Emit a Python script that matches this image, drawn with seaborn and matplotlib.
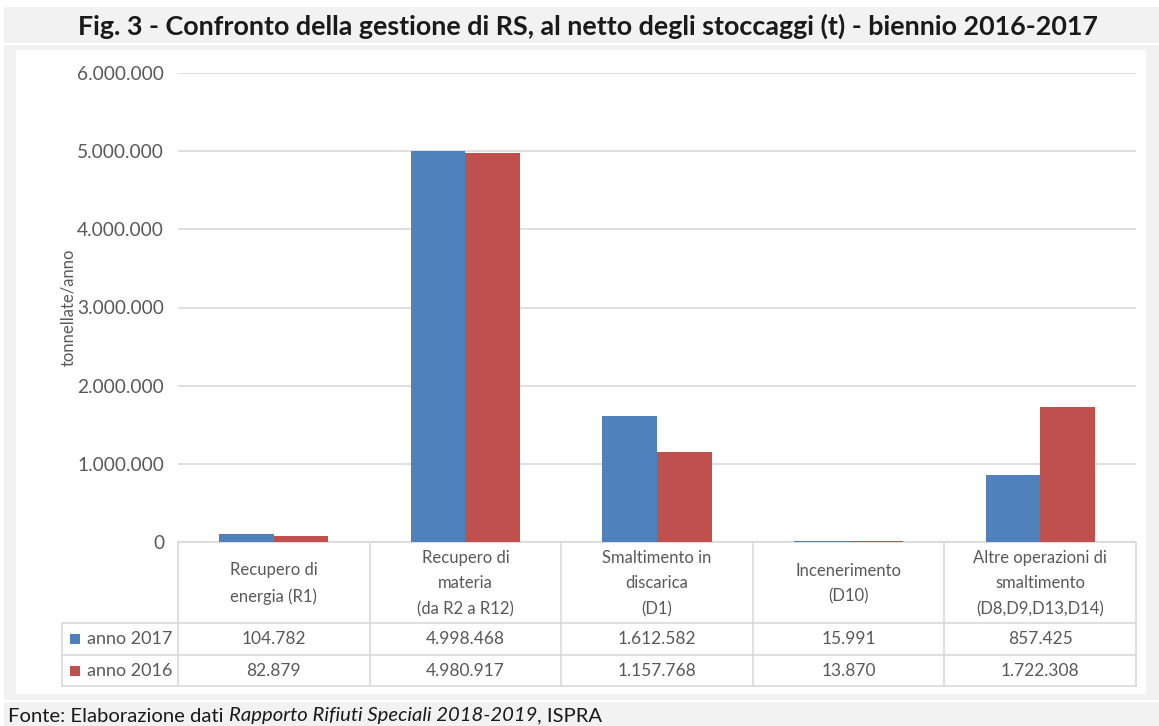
import numpy as np
import pandas as pd
import seaborn as sns
import matplotlib.pyplot as plt
from matplotlib.patches import Rectangle
from matplotlib.transforms import blended_transform_factory

# --- data -------------------------------------------------------------
categories = [
    "Recupero di\nenergia (R1)",
    "Recupero di\nmateria\n(da R2 a R12)",
    "Smaltimento in\ndiscarica\n(D1)",
    "Incenerimento\n(D10)",
    "Altre operazioni di\nsmaltimento\n(D8,D9,D13,D14)",
]
series_names = ["anno 2017", "anno 2016"]
values_2017 = [104782, 4998468, 1612582, 15991, 857425]
values_2016 = [82879, 4980917, 1157768, 13870, 1722308]
y_ticks = [0, 1000000, 2000000, 3000000, 4000000, 5000000, 6000000]

colors = {"anno 2017": "#4F81BD", "anno 2016": "#C0504D"}

title = "Fig. 3 - Confronto della gestione di RS, al netto degli stoccaggi (t) - biennio 2016-2017"
ylabel = "tonnellate/anno"


def it_num(v):
    return f"{v:,}".replace(",", ".")


df = pd.DataFrame({
    "categoria": categories * 2,
    "anno": [series_names[0]] * len(categories) + [series_names[1]] * len(categories),
    "valore": values_2017 + values_2016,
})

# --- figure -----------------------------------------------------------
sns.set_theme(style="white")
plt.rcParams["font.family"] = ["Lato", "DejaVu Sans"]

W, H = 1159, 726
fig = plt.figure(figsize=(W / 100, H / 100), dpi=100)

# full-figure overlay in pixel units (y downwards) for frames and table
ov = fig.add_axes([0, 0, 1, 1], zorder=0)
ov.set_xlim(0, W)
ov.set_ylim(H, 0)
ov.axis("off")

band = "#F2F2F2"
grid_c = "#D9D9D9"
text_c = "#595959"

# title band, chart frame, footer band
ov.add_patch(Rectangle((4, 7), W - 4, 36, facecolor=band, edgecolor="none"))
ov.add_patch(Rectangle((4, 45), W - 4, 655, facecolor=band, edgecolor="none"))
ov.add_patch(Rectangle((16, 50), 1130, 644, facecolor="white", edgecolor="none"))
ov.add_patch(Rectangle((4, 702), W - 4, 30, facecolor=band, edgecolor="none"))
ov.text(W / 2 + 8, 26, title, ha="center", va="center", fontsize=19.4,
        fontweight="bold", color="#1a1a1a")

# footer with italic source title
t1 = ov.text(8, 716, "Fonte: Elaborazione dati ", ha="left", va="center",
             fontsize=14.6, color="#1a1a1a")
t2 = ov.annotate("Rapporto Rifiuti Speciali 2018-2019", xy=(1, 0), xycoords=t1,
                 va="bottom", ha="left", fontsize=14.6, style="italic", color="#1a1a1a")
ov.annotate(", ISPRA", xy=(1, 0), xycoords=t2, va="bottom", ha="left",
            fontsize=14.6, color="#1a1a1a")

# --- bar chart ----------------------------------------------------------
px_left, px_right, px_top, px_zero = 178, 1136, 73, 542
ax = fig.add_axes([px_left / W, 1 - px_zero / H,
                   (px_right - px_left) / W, (px_zero - px_top) / H], zorder=2)
ax.patch.set_alpha(0)

sns.barplot(data=df, x="categoria", y="valore", hue="anno", hue_order=series_names,
            palette=colors, width=0.57, gap=0, saturation=1, ax=ax,
            linewidth=0, legend=False, zorder=3)

ax.set_xlim(-0.5, len(categories) - 0.5)
ax.set_ylim(0, y_ticks[-1])
ax.set_yticks(y_ticks)
ax.set_yticklabels([it_num(v) for v in y_ticks], fontsize=13.8, color=text_c)
ax.tick_params(axis="y", length=0, pad=10)
ax.set_xticks([])
ax.set_xlabel("")
ax.set_ylabel(ylabel, fontsize=12, color=text_c, labelpad=1)
ax.yaxis.grid(True, color=grid_c, linewidth=1.2, zorder=0)
ax.set_axisbelow(True)
for s in ax.spines.values():
    s.set_visible(False)

# --- data table below the axis ------------------------------------------
tr = blended_transform_factory(ax.transData, ov.transData)
row_top, row1, row2, row_bot = 542, 623, 655, 686
leg_left = 62
n = len(categories)
edges = np.arange(n + 1) - 0.5

# horizontal rules
ov.plot([px_left, px_right], [row_top, row_top], color=grid_c, lw=1.2, zorder=1)
for yy in (row1, row2, row_bot):
    ov.plot([leg_left, px_right], [yy, yy], color=grid_c, lw=1.2, zorder=1)
# vertical rules
for e in edges:
    ov.plot([e, e], [row_top, row_bot], color=grid_c, lw=1.2, transform=tr, zorder=1)
ov.plot([leg_left, leg_left], [row1, row_bot], color=grid_c, lw=1.2, zorder=1)

for i, cat in enumerate(categories):
    ov.text(i, (row_top + row1) / 2 + 1, cat, transform=tr, ha="center", va="center",
            fontsize=12, color=text_c, linespacing=1.75)
    ov.text(i, (row1 + row2) / 2, it_num(values_2017[i]), transform=tr,
            ha="center", va="center", fontsize=12.5, color=text_c)
    ov.text(i, (row2 + row_bot) / 2, it_num(values_2016[i]), transform=tr,
            ha="center", va="center", fontsize=12.5, color=text_c)

for name, (ya, yb) in zip(series_names, [(row1, row2), (row2, row_bot)]):
    yc = (ya + yb) / 2
    ov.add_patch(Rectangle((70, yc - 5), 10, 10, facecolor=colors[name], edgecolor="none"))
    ov.text(87, yc, name, ha="left", va="center", fontsize=13, color=text_c)

fig.savefig("out.png", dpi=100)
